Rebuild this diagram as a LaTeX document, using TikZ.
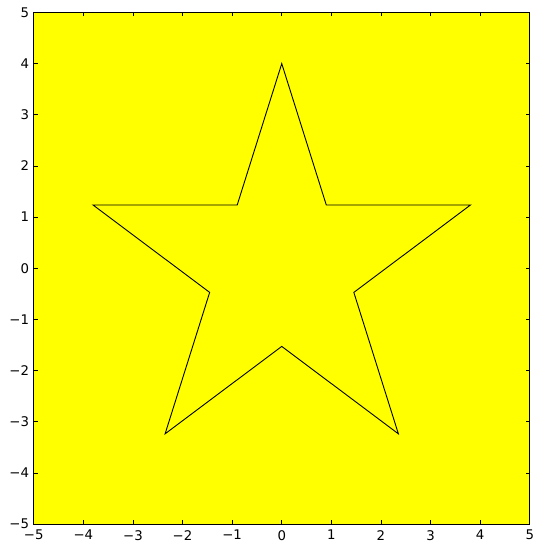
\documentclass[tikz,border=0pt]{standalone}
\usepackage{fontspec}
\setmainfont{DejaVu Sans}
\usetikzlibrary{positioning}
\definecolor{plotyellow}{RGB}{255,255,0}

\begin{document}
\begin{tikzpicture}[
  x=49.6pt, y=51.15pt,
  axisframe/.style={draw=black, line width=0.9pt, fill=plotyellow},
  tickmark/.style={draw=black, line width=0.7pt},
  ticklabel/.style={inner sep=0pt, font=\fontsize{13.3}{16}\selectfont},
  starline/.style={draw=black, line width=0.9pt, line join=miter}
]
\useasboundingbox (-5.68,-5.332) rectangle (5.106,5.244);

% Axes area
\draw[axisframe] (-5,-5) rectangle (5,5);

% Ticks on all four sides, pointing inwards
\foreach \t in {-5,...,5} {
  \draw[tickmark] (\t,-5) -- ++(0,4pt);
  \draw[tickmark] (\t,5) -- ++(0,-4pt);
  \draw[tickmark] (-5,\t) -- ++(4pt,0);
  \draw[tickmark] (5,\t) -- ++(-4pt,0);
}

% Tick labels
\foreach \t/\lbl in {-5/−5,-4/−4,-3/−3,-2/−2,-1/−1,0/0,1/1,2/2,3/3,4/4,5/5} {
  \node[ticklabel, anchor=north] (xl\t) at ([yshift=-6pt]\t,-5) {\lbl};
  \node[ticklabel, anchor=east] (yl\t) at ([xshift=-4.5pt]-5,\t) {\lbl};
}

% Star vertices: outer radius 4, inner radius 1.528
\foreach \i in {0,...,4} {
  \coordinate (outer\i) at ({90+72*\i}:4);
  \coordinate (inner\i) at ({126+72*\i}:1.528);
}
\draw[starline] (outer0) -- (inner0) -- (outer1) -- (inner1) -- (outer2)
  -- (inner2) -- (outer3) -- (inner3) -- (outer4) -- (inner4) -- cycle;

\end{tikzpicture}
\end{document}
